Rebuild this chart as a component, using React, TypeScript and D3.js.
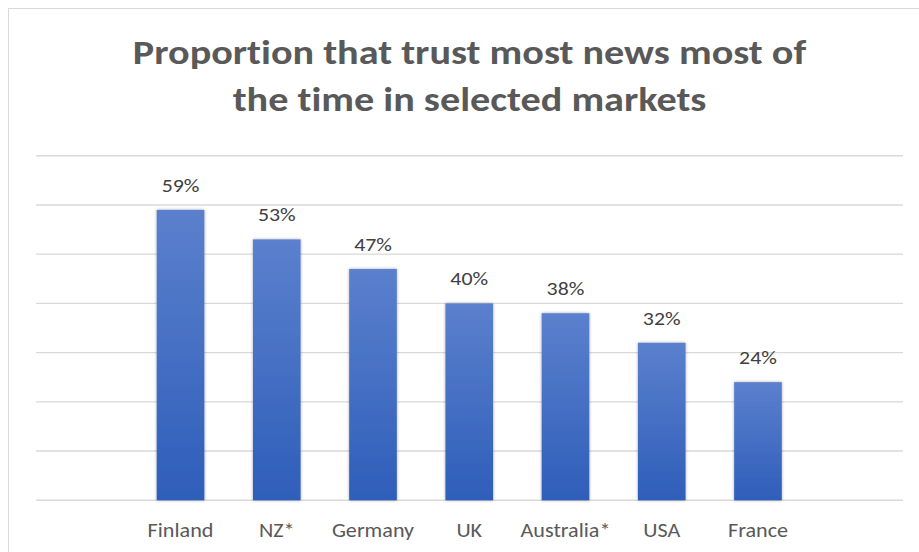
import React from "react";
import * as d3 from "d3";

const categories = ["Finland", "NZ*", "Germany", "UK", "Australia*", "USA", "France"];
const values = [59, 53, 47, 40, 38, 32, 24];
const yTicks = [0, 10, 20, 30, 40, 50, 60, 70];
const titleLines = ["Proportion that trust most news most of", "the time in selected markets"];

const W = 919;
const H = 552;
const FONT = "Carlito, Calibri, Lato, 'Open Sans', sans-serif";

function SText({ x, y, sx, children, ...rest }: any) {
  return (
    <text transform={`translate(${x},${y}) scale(${sx},1)`} {...rest}>
      {children}
    </text>
  );
}

export default function App() {
  const y = d3.scaleLinear().domain([0, 70]).range([500.3, 155.7]);
  const x = d3.scaleBand<string>().domain(categories).range([132.4, 806.1]).paddingInner(0.505).paddingOuter(0.2525);
  const gridX0 = 36;
  const gridX1 = 903;
  const titleBase = [64.3, 111];

  return (
    <svg width={W} height={H} style={{ position: "absolute", left: 0, top: 0, background: "#fff", fontVariantLigatures: "none" }}>
      <defs>
        <linearGradient id="barGrad" x1="0" y1="0" x2="0" y2="1">
          <stop offset="0%" stopColor="#5B80CD" />
          <stop offset="100%" stopColor="#2E5EB9" />
        </linearGradient>
        <filter id="shadow" x="-20%" y="-5%" width="140%" height="110%">
          <feDropShadow dx="0" dy="0" stdDeviation="1.4" floodColor="#000" floodOpacity="0.35" />
        </filter>
      </defs>
      <rect x={8.5} y={8.5} width={W + 20} height={H + 20} fill="#fff" stroke="#d9d9d9" strokeWidth={1} />
      <g fontFamily={FONT} fontWeight={700} fill="#595959" textAnchor="middle" fontSize={33.5}>
        {titleLines.map((t, i) => (
          <SText key={i} x={469.5} y={titleBase[i]} sx={1.2}>{t}</SText>
        ))}
      </g>
      <g>
        {yTicks.map((t) => (
          <line key={t} x1={gridX0} x2={gridX1} y1={y(t)} y2={y(t)} stroke="#d9d9d9" strokeWidth={1.4} />
        ))}
      </g>
      <g filter="url(#shadow)">
        {categories.map((c, i) => (
          <rect key={c} x={x(c)} y={y(values[i])} width={x.bandwidth()} height={y(0) - y(values[i])} fill="url(#barGrad)" />
        ))}
      </g>
      <g fontFamily={FONT} fontSize={19} fill="#404040" textAnchor="middle">
        {categories.map((c, i) => (
          <SText key={c} x={(x(c) as number) + x.bandwidth() / 2} y={y(values[i]) - 18} sx={1.15}>{values[i]}%</SText>
        ))}
      </g>
      <g fontFamily={FONT} fontSize={20.5} fill="#595959" textAnchor="middle">
        {categories.map((c) => (
          <SText key={c} x={(x(c) as number) + x.bandwidth() / 2} y={536.7} sx={1.08}>{c}</SText>
        ))}
      </g>
    </svg>
  );
}
